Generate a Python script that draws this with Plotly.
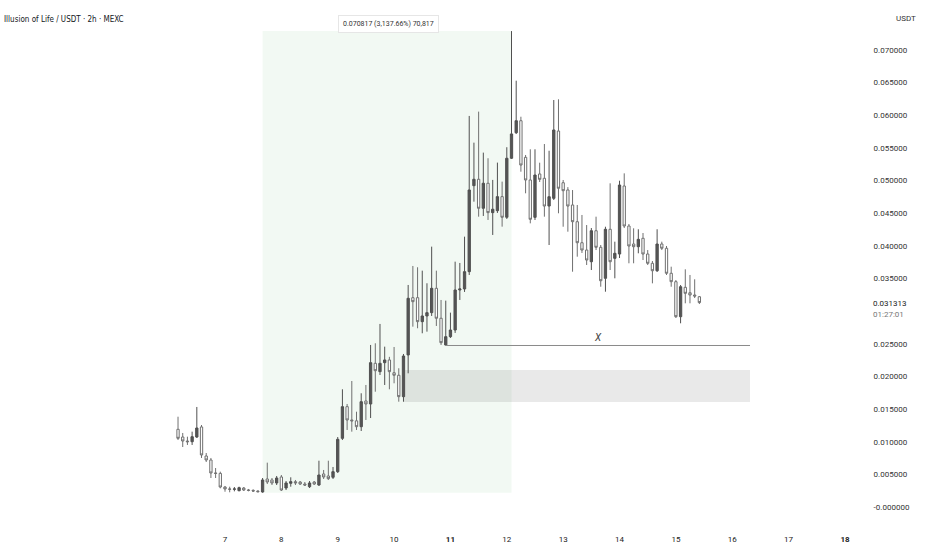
import pandas as pd
import plotly.graph_objects as go

# ---- data (2h candles) ----
opens = [0.01190,0.01072,0.01011,0.01000,0.01072,0.01226,0.00781,0.00720,0.00521,0.00515,
         0.00306,0.00276,0.00272,0.00250,0.00291,0.00260,0.00255,0.00245,0.00230,0.00429,
         0.00414,0.00368,0.00460,0.00291,0.00363,0.00388,0.00383,0.00352,0.00311,0.00383,
         0.00337,0.00506,0.00475,0.00455,0.00541,0.01052,0.01537,0.01333,0.01320,0.01230,
         0.01624,0.01578,0.02201,0.02073,0.02211,0.02252,0.02057,0.02018,0.01690,0.02329,
         0.03206,0.03206,0.02839,0.02926,0.02977,0.03350,0.02891,0.02482,0.02609,0.02711,
         0.03324,0.03340,0.03605,0.04922,0.05020,0.04576,0.04959,0.04509,0.04539,0.04754,
         0.04438,0.05342,0.05733,0.05917,0.05356,0.05009,0.04437,0.05101,0.05035,0.04610,
         0.04728,0.05759,0.04967,0.04856,0.04626,0.04370,0.04048,0.03936,0.03757,0.04232,
         0.03978,0.03503,0.04254,0.03809,0.03875,0.04917,0.04304,0.04028,0.03987,0.04116,
         0.03875,0.03733,0.03619,0.04028,0.03963,0.03580,0.03451,0.02915,0.03365,0.03282,
         0.03247,0.03221]
highs = [0.01383,0.01134,0.01077,0.01154,0.01532,0.01256,0.00827,0.00751,0.00597,0.00541,
         0.00322,0.00311,0.00306,0.00311,0.00306,0.00276,0.00270,0.00255,0.00444,0.00679,
         0.00444,0.00475,0.00490,0.00398,0.00455,0.00414,0.00398,0.00383,0.00398,0.00398,
         0.00709,0.00567,0.00709,0.00613,0.01072,0.01803,0.01578,0.01930,0.01460,0.01742,
         0.01869,0.02482,0.02508,0.02804,0.02456,0.02300,0.02451,0.02125,0.02344,0.03401,
         0.03692,0.03672,0.03620,0.03427,0.03988,0.03620,0.03171,0.03161,0.02977,0.03758,
         0.03738,0.04141,0.05990,0.05581,0.06056,0.05428,0.05342,0.05010,0.05275,0.04984,
         0.05511,0.07290,0.06530,0.05978,0.05392,0.05479,0.05479,0.05274,0.05560,0.05457,
         0.06234,0.06245,0.05009,0.04900,0.04855,0.04626,0.04473,0.04319,0.04273,0.04447,
         0.04013,0.04293,0.04958,0.04064,0.04998,0.05111,0.04335,0.04269,0.04254,0.04197,
         0.03936,0.03768,0.04254,0.04064,0.03998,0.03681,0.03477,0.03400,0.03641,0.03554,
         0.03488,0.03232]
lows  = [0.01026,0.00919,0.00950,0.00950,0.01057,0.00751,0.00689,0.00444,0.00444,0.00286,
         0.00234,0.00225,0.00240,0.00240,0.00245,0.00240,0.00230,0.00225,0.00219,0.00352,
         0.00337,0.00337,0.00245,0.00260,0.00311,0.00337,0.00337,0.00322,0.00291,0.00337,
         0.00322,0.00429,0.00414,0.00429,0.00521,0.01026,0.01180,0.01154,0.01180,0.01164,
         0.01333,0.01363,0.01766,0.02022,0.01869,0.01803,0.01895,0.01613,0.01613,0.02048,
         0.02762,0.02738,0.02661,0.02686,0.02926,0.02773,0.02482,0.02474,0.02589,0.02666,
         0.03171,0.03294,0.03554,0.04677,0.04447,0.04458,0.04397,0.04167,0.04504,0.04294,
         0.04412,0.05330,0.05713,0.05136,0.04805,0.04345,0.04396,0.04978,0.04447,0.04013,
         0.04702,0.04499,0.04293,0.04217,0.03604,0.03834,0.03891,0.03707,0.03630,0.03936,
         0.03374,0.03298,0.03630,0.03503,0.03814,0.04273,0.03733,0.03733,0.03886,0.03783,
         0.03707,0.03426,0.03600,0.03936,0.03554,0.03374,0.02895,0.02814,0.03120,0.03120,
         0.03201,0.03109]
closes = [0.01052,0.01011,0.01000,0.01077,0.01210,0.00797,0.00720,0.00521,0.00515,0.00306,
          0.00276,0.00272,0.00276,0.00296,0.00260,0.00255,0.00245,0.00234,0.00414,0.00383,
          0.00368,0.00444,0.00260,0.00368,0.00388,0.00368,0.00352,0.00337,0.00368,0.00352,
          0.00490,0.00460,0.00434,0.00541,0.01037,0.01537,0.01333,0.01320,0.01230,0.01613,
          0.01578,0.02211,0.02088,0.02201,0.02252,0.02073,0.02018,0.01690,0.02313,0.03197,
          0.03145,0.02839,0.02926,0.02977,0.03350,0.02891,0.02517,0.02609,0.02711,0.03324,
          0.03340,0.03605,0.04856,0.05020,0.04576,0.04959,0.04509,0.04561,0.04754,0.04438,
          0.05342,0.05714,0.05917,0.05238,0.05009,0.04407,0.05085,0.05019,0.04610,0.04753,
          0.05775,0.04882,0.04845,0.04610,0.04370,0.04048,0.03936,0.03783,0.04232,0.03978,
          0.03466,0.04254,0.03757,0.03886,0.04932,0.04304,0.03998,0.03987,0.04100,0.03875,
          0.03733,0.03619,0.04028,0.03963,0.03580,0.03451,0.02915,0.03374,0.03273,0.03247,
          0.03232,0.031313]

start_time = "2025-03-06 04:00"
times = pd.date_range(start=start_time, periods=len(opens), freq="2h")

price_ticks = [0.0, 0.005, 0.010, 0.015, 0.020, 0.025, 0.035, 0.040, 0.045,
               0.050, 0.055, 0.060, 0.065, 0.070]
price_tick_text = ["-0.000000", "0.005000", "0.010000", "0.015000", "0.020000",
                   "0.025000", "0.035000", "0.040000", "0.045000", "0.050000",
                   "0.055000", "0.060000", "0.065000", "0.070000"]
day_ticks = ["2025-03-%02d" % d for d in range(7, 19)]
day_tick_text = ["7", "8", "9", "10", "<b>11</b>", "12", "13", "14", "15", "16", "17", "<b>18</b>"]

range_low, range_high = 0.00219, 0.07290
range_start, range_end = times[18], times[71]
level_price = 0.02474
level_start, level_end = times[57], "2025-03-16 07:34"
zone_low, zone_high = 0.01608, 0.02098
zone_start, zone_end = "2025-03-10 03:48", "2025-03-16 07:34"
last_price_text = "0.031313"
timer_text = "01:27:01"
measure_text = "0.070817 (3,137.66%) 70,817"
title_text = "Illusion of Life / USDT · 2h · MEXC"

FONT = "Liberation Sans Narrow, Roboto, Arial, sans-serif"
TITLE_FONT = "DejaVu Sans Condensed, Liberation Sans Narrow, Roboto, sans-serif"
W_PLOT, H_PLOT = 862, 525

fig = go.Figure()
fig.add_trace(go.Candlestick(
    x=times, open=opens, high=highs, low=lows, close=closes,
    increasing=dict(line=dict(color="#505050", width=1), fillcolor="#555555"),
    decreasing=dict(line=dict(color="#707070", width=1), fillcolor="#ffffff"),
    whiskerwidth=0, showlegend=False, hoverinfo="skip",
))

# measured range (green box)
fig.add_shape(type="rect", xref="x", yref="y", x0=range_start, x1=range_end,
              y0=range_low, y1=range_high, fillcolor="rgba(76,175,80,0.07)",
              line=dict(width=0), layer="below")
# grey zone
fig.add_shape(type="rect", xref="x", yref="y", x0=zone_start, x1=zone_end,
              y0=zone_low, y1=zone_high, fillcolor="rgba(0,0,0,0.085)",
              line=dict(width=0), layer="below")
# horizontal level
fig.add_shape(type="line", xref="x", yref="y", x0=level_start, x1=level_end,
              y0=level_price, y1=level_price, line=dict(color="#8a8a8a", width=1))

fig.add_annotation(x="2025-03-13 14:50", y=0.02604, xref="x", yref="y", text="<i>X</i>",
                   showarrow=False, font=dict(family=FONT, size=10, color="#444"))

fig.add_annotation(x=388 / W_PLOT, y=1 - 15 / H_PLOT, xref="paper", yref="paper",
                   text=measure_text, showarrow=False, bgcolor="#ffffff",
                   bordercolor="#e6e6e6", borderwidth=1, borderpad=4,
                   font=dict(family=FONT, size=7, color="#333"))

fig.add_annotation(x=0.002, y=1 - 13 / H_PLOT, xref="paper", yref="paper", xanchor="left",
                   text=title_text, showarrow=False,
                   font=dict(family=TITLE_FONT, size=8, color="#131722"))

fig.add_annotation(x=918 / W_PLOT, y=1 - 12 / H_PLOT, xref="paper", yref="paper",
                   text="USDT", showarrow=False,
                   font=dict(family=FONT, size=8, color="#333"))
fig.add_annotation(x=1 + 9 / W_PLOT, y=1 - 303 / H_PLOT, xref="paper", yref="paper",
                   xanchor="left", text=last_price_text, showarrow=False,
                   font=dict(family=FONT, size=8, color="#222"))
fig.add_annotation(x=1 + 9 / W_PLOT, y=1 - 314 / H_PLOT, xref="paper", yref="paper",
                   xanchor="left", text=timer_text, showarrow=False,
                   font=dict(family=FONT, size=8, color="#777"))

x_lo = pd.Timestamp("2025-03-07") - pd.Timedelta(days=3.992)
x_hi = pd.Timestamp("2025-03-07") + pd.Timedelta(days=11.302)

fig.update_layout(
    width=932, height=550,
    margin=dict(l=0, r=70, t=0, b=25),
    paper_bgcolor="#ffffff", plot_bgcolor="#ffffff",
    font=dict(family=FONT, size=8, color="#333"),
    xaxis=dict(range=[x_lo, x_hi], rangeslider=dict(visible=False), showgrid=False,
               zeroline=False, showline=False, tickvals=day_ticks, ticktext=day_tick_text,
               ticks="outside", ticklen=6, tickcolor="rgba(0,0,0,0)",
               tickfont=dict(family=FONT, size=8, color="#222")),
    yaxis=dict(range=[-0.002757, 0.07766], side="right", showgrid=False, zeroline=False,
               showline=False, tickvals=price_ticks, ticktext=price_tick_text,
               ticks="outside", ticklen=9, tickcolor="rgba(0,0,0,0)",
               tickfont=dict(family=FONT, size=8, color="#333")),
)

fig.write_html("out.html", config={"displayModeBar": False},
               post_script="document.body.style.margin='0';document.body.style.padding='0';")
